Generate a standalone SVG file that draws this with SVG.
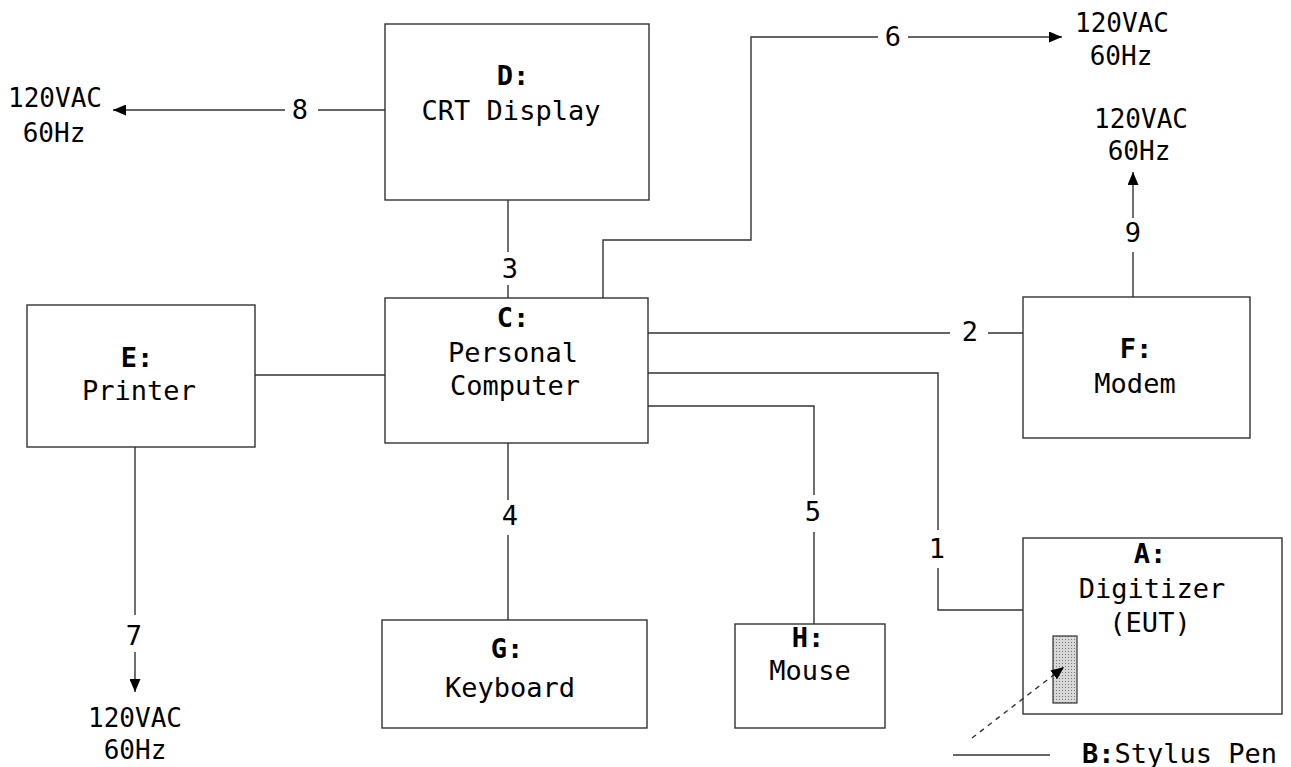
<svg xmlns="http://www.w3.org/2000/svg" width="1291" height="767" viewBox="0 0 1291 767">
<style>
.box{fill:none;stroke:#333;stroke-width:1.4}
.ln{fill:none;stroke:#333;stroke-width:1.4}
.t{font-family:"DejaVu Sans Mono","Liberation Mono",monospace;font-size:27px;fill:#000;text-anchor:middle}
.b{font-weight:bold}
.n{font-family:"DejaVu Sans Mono","Liberation Mono",monospace;font-size:27px;fill:#000;text-anchor:middle}
.p{font-family:"DejaVu Sans Mono","Liberation Mono",monospace;font-size:26px;fill:#000;text-anchor:middle}
</style>
<defs>
<marker id="arr" markerUnits="userSpaceOnUse" markerWidth="13" markerHeight="11" refX="13" refY="5.5" orient="auto">
<path d="M0,0 L13,5.5 L0,11 z" fill="#000"/>
</marker>
<pattern id="dots" width="3" height="3" patternUnits="userSpaceOnUse">
<rect width="3" height="3" fill="#d8d8d8"/>
<rect width="1" height="1" fill="#777"/>
</pattern>
</defs>
<rect width="1291" height="767" fill="#fff"/>

<g id="node-D">
<rect class="box" x="385" y="24" width="264" height="176"/>
<text class="t b" x="513" y="85">D:</text>
<text class="t" x="511" y="120">CRT Display</text>
</g>
<g id="node-C">
<rect class="box" x="385" y="298" width="263" height="145"/>
<text class="t b" x="513" y="327">C:</text>
<text class="t" x="513" y="362">Personal</text>
<text class="t" x="515" y="395">Computer</text>
</g>
<g id="node-E">
<rect class="box" x="27" y="305" width="228" height="142"/>
<text class="t b" x="137" y="367">E:</text>
<text class="t" x="139" y="400">Printer</text>
</g>
<g id="node-F">
<rect class="box" x="1023" y="297" width="227" height="141"/>
<text class="t b" x="1136" y="358">F:</text>
<text class="t" x="1135" y="393">Modem</text>
</g>
<g id="node-G">
<rect class="box" x="382" y="620" width="265" height="108"/>
<text class="t b" x="507" y="658">G:</text>
<text class="t" x="510" y="697">Keyboard</text>
</g>
<g id="node-H">
<rect class="box" x="735" y="624" width="150" height="104"/>
<text class="t b" x="808" y="647">H:</text>
<text class="t" x="810" y="680">Mouse</text>
</g>
<g id="node-A">
<rect class="box" x="1023" y="538" width="259" height="176"/>
<text class="t b" x="1150" y="563">A:</text>
<text class="t" x="1152" y="598">Digitizer</text>
<text class="t" x="1150" y="632">(EUT)</text>
</g>
<g id="node-B">
<rect x="1053" y="636" width="24" height="67" fill="url(#dots)" stroke="#333" stroke-width="1.2"/>
<text class="t" x="1082" y="763" style="text-anchor:start"><tspan class="b">B:</tspan>Stylus Pen</text>
</g>

<g id="power-8">
<text class="p" x="55" y="107">120VAC</text>
<text class="p" x="54" y="142">60Hz</text>
</g>
<g id="power-6">
<text class="p" x="1122" y="32">120VAC</text>
<text class="p" x="1121" y="65">60Hz</text>
</g>
<g id="power-9">
<text class="p" x="1141" y="128">120VAC</text>
<text class="p" x="1139" y="160">60Hz</text>
</g>
<g id="power-7">
<text class="p" x="135" y="727">120VAC</text>
<text class="p" x="135" y="759">60Hz</text>
</g>

<g id="connectors">
<path class="ln" d="M508,200 V252 M508,285 V298"/>
<path class="ln" d="M508,443 V500 M508,535 V620"/>
<path class="ln" d="M255,375 H385"/>
<path class="ln" d="M385,110 H318"/>
<path class="ln" d="M285,110 H113" marker-end="url(#arr)"/>
<path class="ln" d="M603,298 V240 H751 V37 H878"/>
<path class="ln" d="M908,37 H1062" marker-end="url(#arr)"/>
<path class="ln" d="M648,333 H950 M988,333 H1023"/>
<path class="ln" d="M648,373 H938 V530 M938,568 V610 H1023"/>
<path class="ln" d="M648,406 H814 V495 M814,532 V624"/>
<path class="ln" d="M1133,297 V252"/>
<path class="ln" d="M1133,218 V172" marker-end="url(#arr)"/>
<path class="ln" d="M135,447 V615"/>
<path class="ln" d="M135,652 V692" marker-end="url(#arr)"/>
<path class="ln" d="M953,755 H1050"/>
<path class="ln" d="M972,738 L1064,667" stroke-dasharray="5 5" marker-end="url(#arr)"/>
</g>

<g id="labels">
<text class="n" x="300" y="119">8</text>
<text class="n" x="893" y="46">6</text>
<text class="n" x="510" y="278">3</text>
<text class="n" x="510" y="525">4</text>
<text class="n" x="813" y="521">5</text>
<text class="n" x="937" y="558">1</text>
<text class="n" x="970" y="341">2</text>
<text class="n" x="1133" y="242">9</text>
<text class="n" x="134" y="645">7</text>
</g>
</svg>
